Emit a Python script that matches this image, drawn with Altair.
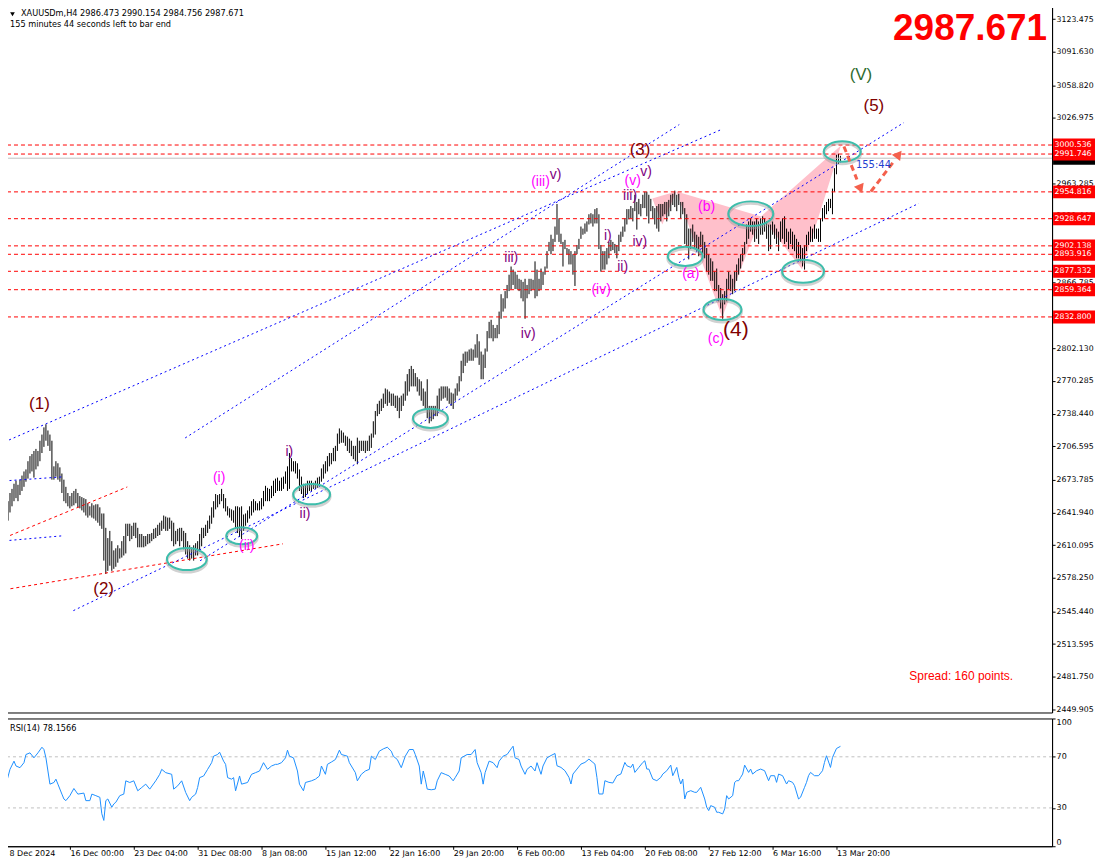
import json
import altair as alt
import pandas as pd

# ---------------- data ----------------
highs = [2650,2653,2661,2665,2670,2673,2669,2674,2678,2682,2684,2692,2697,2699,2702,2704,2702,2712,2718,2725,
         2728,2722,2718,2712,2687,2692,2690,2686,2680,2674,2667,2661,2658,2661,2663,2665,2661,2658,2657,2656,
         2655,2651,2648,2651,2649,2650,2650,2647,2641,2641,2627,2617,2624,2614,2605,2607,2610,2607,2614,2619,
         2631,2631,2631,2629,2632,2632,2627,2621,2621,2619,2619,2621,2621,2622,2626,2627,2630,2632,2634,2639,
         2638,2637,2637,2634,2632,2624,2626,2627,2627,2624,2622,2614,2610,2608,2610,2612,2614,2621,2627,2627,
         2630,2634,2639,2647,2653,2660,2659,2660,2665,2660,2656,2648,2646,2645,2644,2648,2648,2647,2648,2640,
         2641,2644,2648,2653,2655,2653,2651,2653,2656,2663,2668,2666,2665,2668,2673,2675,2676,2673,2676,2677,
         2682,2687,2700,2695,2692,2692,2690,2684,2677,2670,2670,2673,2673,2673,2671,2673,2676,2677,2685,2689,
         2692,2697,2700,2700,2705,2707,2719,2724,2722,2720,2717,2716,2714,2712,2707,2707,2715,2712,2712,2712,
         2712,2712,2717,2719,2731,2741,2748,2751,2753,2758,2763,2762,2760,2758,2758,2756,2756,2754,2756,2758,
         2770,2777,2782,2785,2782,2778,2774,2772,2770,2763,2760,2772,2746,2746,2746,2746,2756,2763,2765,2765,
         2765,2765,2763,2759,2758,2763,2768,2775,2790,2797,2799,2799,2801,2802,2801,2806,2816,2809,2799,2796,
         2802,2819,2828,2830,2825,2822,2825,2838,2855,2851,2858,2864,2874,2882,2879,2877,2874,2870,2869,2867,
         2870,2864,2870,2870,2869,2887,2879,2870,2880,2877,2882,2897,2906,2913,2909,2921,2943,2929,2914,2906,
         2908,2900,2899,2897,2894,2897,2903,2909,2921,2919,2924,2926,2933,2934,2933,2938,2939,2933,2903,2897,
         2897,2900,2906,2908,2906,2904,2903,2913,2916,2921,2929,2938,2938,2941,2939,2952,2945,2948,2943,2952,
         2955,2955,2952,2948,2941,2939,2941,2943,2943,2943,2945,2945,2947,2952,2953,2956,2952,2953,2945,2945,
         2939,2933,2919,2919,2923,2916,2913,2911,2916,2913,2906,2900,2894,2890,2887,2877,2880,2864,2861,2855,
         2858,2870,2877,2874,2870,2877,2884,2890,2894,2900,2906,2923,2926,2929,2926,2926,2929,2926,2929,2931,
         2929,2926,2923,2923,2926,2923,2919,2916,2926,2929,2931,2919,2916,2919,2916,2913,2909,2906,2903,2900,
         2903,2913,2916,2921,2919,2923,2919,2919,2929,2939,2942,2945,2948,2948,2958,2978,2991,2992,2990]
lows = [2627,2634,2642,2648,2653,2656,2653,2659,2663,2667,2672,2675,2680,2682,2676,2684,2687,2692,2700,2706,
        2712,2707,2702,2674,2674,2677,2674,2672,2661,2653,2651,2648,2646,2648,2649,2651,2647,2646,2644,2642,
        2639,2637,2639,2637,2636,2634,2632,2629,2626,2595,2582,2585,2590,2585,2587,2589,2593,2597,2598,2600,
        2602,2619,2614,2616,2619,2617,2608,2608,2608,2608,2609,2611,2612,2614,2616,2617,2619,2620,2624,2626,
        2624,2624,2626,2614,2609,2611,2614,2609,2614,2606,2601,2597,2595,2597,2595,2600,2600,2604,2609,2617,
        2619,2622,2626,2631,2637,2645,2647,2650,2653,2646,2643,2639,2637,2634,2632,2626,2622,2618,2616,2624,
        2629,2632,2636,2639,2642,2644,2644,2644,2645,2648,2653,2653,2653,2656,2658,2661,2663,2663,2663,2665,
        2670,2663,2665,2682,2682,2680,2675,2663,2660,2656,2657,2660,2663,2663,2665,2665,2666,2668,2672,2675,
        2680,2682,2687,2689,2692,2692,2702,2709,2710,2710,2707,2702,2700,2697,2694,2692,2689,2700,2702,2702,
        2700,2702,2702,2705,2715,2718,2736,2738,2741,2744,2748,2746,2749,2746,2746,2744,2741,2734,2741,2746,
        2751,2756,2760,2765,2765,2765,2760,2756,2751,2746,2743,2734,2729,2731,2733,2736,2736,2741,2751,2753,
        2754,2751,2748,2746,2743,2751,2756,2760,2770,2778,2785,2788,2790,2790,2790,2793,2793,2786,2772,2772,
        2783,2799,2812,2812,2809,2812,2812,2816,2831,2838,2841,2851,2858,2860,2864,2860,2860,2858,2851,2848,
        2831,2851,2855,2858,2860,2851,2853,2858,2860,2864,2874,2880,2897,2894,2897,2906,2913,2906,2904,2882,
        2899,2894,2884,2884,2874,2863,2894,2899,2909,2913,2914,2916,2923,2924,2921,2924,2924,2899,2877,2879,
        2879,2884,2890,2897,2898,2895,2890,2897,2906,2911,2916,2923,2928,2929,2926,2936,2918,2933,2931,2939,
        2939,2931,2924,2936,2929,2923,2919,2916,2926,2931,2933,2926,2931,2936,2942,2940,2936,2942,2929,2933,
        2904,2902,2889,2899,2906,2899,2897,2892,2901,2894,2890,2877,2874,2868,2868,2858,2858,2848,2841,2831,
        2845,2848,2860,2858,2855,2858,2868,2874,2880,2887,2894,2904,2909,2916,2913,2906,2909,2904,2913,2913,
        2916,2909,2897,2899,2913,2909,2904,2897,2906,2909,2904,2906,2899,2904,2899,2897,2890,2890,2887,2882,
        2879,2897,2903,2906,2906,2909,2909,2906,2906,2926,2929,2933,2936,2939,2933,2955,2972,2982,2985]

rsi_idx = [0,2,4,5,7,9,10,12,14,16,18,19,20,22,24,25,26,28,29,30,32,34,36,39,40,42,43,45,47,48,49,50,51,53,54,55,
           57,59,60,62,64,66,68,70,72,75,77,78,80,83,84,86,88,90,92,93,95,96,97,99,101,103,104,106,107,109,110,
           111,113,114,115,117,118,121,123,125,127,129,131,133,135,136,138,140,141,142,144,146,147,149,150,153,
           155,157,158,160,161,163,165,167,168,171,172,173,175,176,178,180,182,183,185,187,189,191,193,194,196,
           198,200,202,204,205,207,208,209,210,211,213,215,216,218,220,222,224,225,227,228,231,233,235,236,238,
           239,240,242,244,246,247,249,251,253,254,255,257,258,260,261,263,265,266,268,269,271,273,275,276,278,
           280,282,283,284,286,288,290,292,294,295,296,297,299,300,302,304,306,308,310,311,313,314,315,317,319,
           320,321,322,324,326,328,329,331,333,334,336,337,338,339,340,341,343,345,346,348,350,351,352,353,355,
           356,357,359,360,361,362,364,365,366,367,368,369,370,372,373,374,376,378,380,382,383,385,386,387,389,
           391,392,394,395,397,398,400,401,402,403,405,407,409,410,411,413,414,416,418]
rsi_val = [48.6,60.2,66.6,62.8,61.5,65.4,71.8,73.1,69.2,73.1,77.5,75.7,69.2,48.6,49.9,52.5,48.6,40.8,37.0,35.7,
           39.6,45.2,40.8,41.6,35.7,35.7,40.8,39.6,38.3,25.4,20.2,35.7,37.0,30.5,33.1,34.4,39.6,40.8,51.2,49.9,
           51.2,43.4,46.0,48.6,44.7,51.2,56.3,60.2,57.6,56.3,44.7,47.3,51.2,42.1,35.7,38.3,40.8,46.0,53.7,55.0,
           60.2,65.4,70.5,71.8,73.6,66.6,64.1,53.7,52.5,53.7,43.4,55.0,48.6,49.9,56.3,57.6,58.9,65.4,60.2,62.8,
           64.1,64.1,65.4,69.2,75.2,70.5,69.2,58.9,48.6,43.4,49.9,51.2,52.5,55.0,62.8,56.3,64.1,65.9,67.9,75.2,
           71.8,70.5,65.4,62.8,57.6,51.2,56.3,58.9,60.2,70.5,67.9,74.4,76.2,77.5,74.4,70.5,67.9,61.5,70.5,75.7,
           75.7,71.8,62.8,48.6,58.9,52.5,44.7,44.2,44.7,51.2,57.6,56.3,55.0,51.2,53.7,58.9,69.2,71.8,71.8,75.7,
           65.4,57.6,48.6,57.6,66.6,65.4,61.5,66.6,70.5,71.8,76.2,78.3,69.2,67.9,62.8,56.3,60.2,62.8,58.9,65.4,
           56.3,62.8,69.2,71.0,72.6,63.0,61.7,59.1,53.9,48.7,56.5,60.4,64.3,65.6,68.2,65.6,64.3,53.9,40.9,40.9,
           51.3,50.0,49.5,55.2,56.5,65.6,63.0,61.7,64.3,57.8,61.7,65.6,66.9,60.4,60.4,52.6,51.3,53.9,56.5,59.1,
           63.5,55.2,61.7,53.9,48.7,52.6,37.0,42.2,43.5,42.2,42.2,46.1,37.0,30.5,27.9,31.8,30.5,26.6,26.6,25.3,
           29.2,39.6,37.0,39.6,50.0,51.3,51.3,53.9,56.5,63.5,57.8,60.4,56.5,59.1,60.4,59.1,51.3,55.2,55.2,50.0,
           56.5,55.2,48.7,51.3,50.0,47.4,37.0,38.3,46.1,50.0,55.2,57.8,55.2,55.2,59.1,65.6,70.8,61.7,69.5,76.5,
           78.2]

levels = [3000.536, 2991.746, 2954.816, 2928.647, 2902.138, 2893.916, 2877.332, 2859.364, 2832.800]
bid = 2987.671
price_ticks = [3123.475, 3091.630, 3058.820, 3026.975, 2995.130, 2963.285, 2931.440, 2898.630, 2866.785,
               2834.940, 2802.130, 2770.285, 2738.440, 2706.595, 2673.785, 2641.940, 2610.095, 2578.250,
               2545.440, 2513.595, 2481.750, 2449.905]
time_ticks = [0, 32, 64, 96, 128, 160, 192, 224, 256, 288, 320, 352, 384, 416]
time_labels = ["8 Dec 2024", "16 Dec 00:00", "23 Dec 04:00", "31 Dec 08:00", "8 Jan 08:00", "15 Jan 12:00",
               "22 Jan 16:00", "29 Jan 20:00", "6 Feb 00:00", "13 Feb 04:00", "20 Feb 08:00",
               "27 Feb 12:00", "6 Mar 16:00", "13 Mar 20:00"]

# trend / channel lines: bar index and price of both ends
chan_id = ["L1", "L1", "L2", "L2", "L3", "L3", "L4", "L4", "B1", "B1", "B2", "B2"]
chan_i = [-0.75, 358.25, 89.75, 337.25, 33.75, 457.25, 97.25, 449.75, -0.75, 28.25, -0.75, 28.25]
chan_p = [2710.8, 3015.6, 2714.7, 3020.5, 2546.2, 2943.6, 2594.9, 3022.4, 2672.8, 2676.7, 2614.3, 2619.2]
red_id = ["R1", "R1", "R2", "R2"]
red_i = [-0.75, 138.75, -0.75, 60.75]
red_p = [2566.6, 2611.4, 2617.3, 2666.9]

# harmonic pattern triangles
tri_id = ["s", "s", "s", "XAB", "XAB", "XAB", "BCD", "BCD", "BCD"]
tri_i = [323.75, 328.75, 335.75, 335.75, 358.75, 378.25, 378.25, 398.75, 418.25]
tri_top = [2948.4, 2951.2, 2955.2, 2955.2, 2942.1, 2930.9, 2930.9, 2966.3, 3000.0]
tri_bot = [2948.4, 2923.1, 2955.2, 2955.2, 2832.5, 2930.9, 2930.9, 2879.3, 3000.0]

# ellipses
ell_i = [90.6, 118.1, 153.1, 212.6, 340.25, 358.9, 373.1, 399.25, 418.9]
ell_p = [2596.5, 2619.2, 2659.8, 2733.9, 2891.9, 2840.0, 2933.5, 2877.3, 2994.2]
ell_w = [40, 31, 37, 35, 35, 38, 45, 42, 37]

# arrows
arr_id = ["A1", "A1", "A2", "A2"]
arr_i = [419.75, 426.25, 433.25, 444.75]
arr_p = [2999.1, 2966.9, 2955.2, 2984.5]
head_i = [427.75, 446.75]
head_p = [2959.1, 2990.3]
head_a = [158, 38]

# wave labels
maroon_t = ["(1)", "(2)", "(3)", "(5)"]
maroon_i = [16.75, 48.9, 317.6, 434.75]
maroon_p = [2747.5, 2567.3, 2995.9, 3039.0]
mag_t = ["(i)", "(ii)", "(iii)", "(iv)", "(v)", "(a)", "(b)", "(c)"]
mag_i = [106.75, 120.6, 267.75, 298.1, 313.9, 343.0, 350.9, 355.6]
mag_p = [2676.0, 2609.5, 2964.5, 2858.8, 2965.0, 2874.7, 2939.7, 2810.8]
pur_t = ["i)", "ii)", "iii)", "iv)", "v)", "i)", "ii)", "iii)", "iv)", "v)"]
pur_i = [141.9, 149.75, 253.1, 261.6, 275.25, 301.5, 308.9, 312.6, 317.5, 320.6]
pur_p = [2701.3, 2640.3, 2890.3, 2816.4, 2970.8, 2911.4, 2881.2, 2950.9, 2905.6, 2974.2]

# ---------------- chart ----------------
FONT = "DejaVu Sans"
LFONT = "Liberation Sans"
ELL = "M-1,0A1,0.55,0,1,1,1,0A1,0.55,0,1,1,-1,0Z"

xs = alt.Scale(domain=[-1.0, 524.0], nice=False, zero=False)
ys = alt.Scale(domain=[2446.81, 3137.38], nice=False, zero=False)
rs = alt.Scale(domain=[0, 100], nice=False, zero=False)

main_axis = alt.Axis(orient="right", values=price_ticks, format=".3f", title=None, grid=False,
                     labelFont=FONT, labelFontSize=7.8, labelColor="black", tickColor="black",
                     tickSize=3, labelPadding=1, domainColor="black", labelOverlap=False,
                     labelFlush=False, labelBound=False)


def X(f):
    return alt.X(f, type="quantitative", scale=xs, axis=None)


def Y(f):
    return alt.Y(f, type="quantitative", scale=ys, axis=main_axis)


one = pd.DataFrame({"k": [0]})
bars_df = pd.DataFrame({"i": list(range(len(highs))), "high": highs, "low": lows})
tri_df = pd.DataFrame({"id": tri_id, "i": tri_i, "top": tri_top, "bot": tri_bot})
chan_df = pd.DataFrame({"id": chan_id, "i": chan_i, "p": chan_p})
red_df = pd.DataFrame({"id": red_id, "i": red_i, "p": red_p})
ell_df = pd.DataFrame({"i": ell_i, "p": ell_p, "s": [w * w for w in ell_w]})
arr_df = pd.DataFrame({"id": arr_id, "i": arr_i, "p": arr_p})
head_df = pd.DataFrame({"i": head_i, "p": head_p, "a": head_a})
lvl_df = pd.DataFrame({"p": levels, "lbl": [f"{v:.3f}" for v in levels]})
bid_df = pd.DataFrame({"p": [bid], "lbl": [f"{bid:.3f}"]})
mar_df = pd.DataFrame({"t": maroon_t, "i": maroon_i, "p": maroon_p})
mag_df = pd.DataFrame({"t": mag_t, "i": mag_i, "p": mag_p})
pur_df = pd.DataFrame({"t": pur_t, "i": pur_i, "p": pur_p})

# invisible frame fixing the drawing bounds so the page is rendered at scale 1
frame_main = alt.Chart(one).mark_rect(fill="white", fillOpacity=0, strokeOpacity=0).encode(
    x=alt.value(-10), x2=alt.value(1110), y=alt.value(-10), y2=alt.value(-9))
frame_rsi = alt.Chart(one).mark_rect(fill="white", fillOpacity=0, strokeOpacity=0).encode(
    x=alt.value(0), x2=alt.value(1), y=alt.value(143), y2=alt.value(144))

pink = alt.Chart(tri_df).mark_area(color="#FFC0CB", opacity=1).encode(
    x=X("i"), y=Y("top"), y2="bot", detail="id:N")
bars = alt.Chart(bars_df).mark_rule(color="black", strokeWidth=1).encode(
    x=X("i"), y=Y("low"), y2="high")
lvl_lines = alt.Chart(lvl_df).mark_rule(color="#FF0000", strokeDash=[4, 3], strokeWidth=1).encode(y=Y("p"))
bid_line = alt.Chart(bid_df).mark_rule(color="#C0C0C0", strokeWidth=1).encode(y=Y("p"))
chan = alt.Chart(chan_df).mark_line(color="#0000FF", strokeDash=[2, 3], strokeWidth=1).encode(
    x=X("i"), y=Y("p"), detail="id:N")
redl = alt.Chart(red_df).mark_line(color="#FF0000", strokeDash=[3, 3], strokeWidth=1).encode(
    x=X("i"), y=Y("p"), detail="id:N")
ell_shadow = alt.Chart(ell_df).mark_point(shape=ELL, filled=False, color="#9A9A9A", strokeWidth=3,
                                          opacity=0.45, yOffset=2).encode(
    x=X("i"), y=Y("p"), size=alt.Size("s:Q", scale=None))
ell = alt.Chart(ell_df).mark_point(shape=ELL, filled=False, color="#3DBDAB", strokeWidth=2, opacity=1).encode(
    x=X("i"), y=Y("p"), size=alt.Size("s:Q", scale=None))
arrows = alt.Chart(arr_df).mark_line(color="#F4604C", strokeWidth=3, strokeDash=[6, 4]).encode(
    x=X("i"), y=Y("p"), detail="id:N")
heads = alt.Chart(head_df).mark_point(shape="triangle", filled=True, color="#F4604C", size=110,
                                      opacity=1).encode(
    x=X("i"), y=Y("p"), angle=alt.Angle("a:Q", scale=None))

t_mar = alt.Chart(mar_df).mark_text(font=LFONT, fontSize=17, color="#800000").encode(
    x=X("i"), y=Y("p"), text="t:N")
t_four = alt.Chart(pd.DataFrame({"t": ["(4)"], "i": [365.6], "p": [2819.6]})).mark_text(
    font=LFONT, fontSize=21, color="#800000").encode(x=X("i"), y=Y("p"), text="t:N")
t_V = alt.Chart(pd.DataFrame({"t": ["(V)"], "i": [428.25], "p": [3069.2]})).mark_text(
    font=LFONT, fontSize=17, color="#2F6B2F").encode(x=X("i"), y=Y("p"), text="t:N")
t_mag = alt.Chart(mag_df).mark_text(font=LFONT, fontSize=14, color="#FF00FF").encode(
    x=X("i"), y=Y("p"), text="t:N")
t_pur = alt.Chart(pur_df).mark_text(font=LFONT, fontSize=14, color="#800080").encode(
    x=X("i"), y=Y("p"), text="t:N")
t_timer = alt.Chart(pd.DataFrame({"t": ["155:44"], "i": [425.75], "p": [2980.6]})).mark_text(
    font=FONT, fontSize=10, color="#1F3FD0", align="left").encode(x=X("i"), y=Y("p"), text="t:N")

hdr_tri = alt.Chart(one).mark_point(shape="triangle-down", filled=True, color="black", size=22,
                                    opacity=1).encode(x=alt.value(8.5), y=alt.value(9.5))
hdr1 = alt.Chart(one).mark_text(font=FONT, fontSize=8.2, color="black", align="left",
                                baseline="middle").encode(
    x=alt.value(17), y=alt.value(9.5),
    text=alt.value("XAUUSDm,H4  2986.473 2990.154 2984.756 2987.671"))
hdr2 = alt.Chart(one).mark_text(font=FONT, fontSize=8.2, color="black", align="left",
                                baseline="middle").encode(
    x=alt.value(6), y=alt.value(20.5), text=alt.value("155 minutes 44 seconds left to bar end"))
big = alt.Chart(one).mark_text(font=LFONT, fontSize=37, fontWeight="bold", color="#FF0000",
                               align="right", baseline="alphabetic").encode(
    x=alt.value(1045), y=alt.value(35), text=alt.value("2987.671"))
spread = alt.Chart(one).mark_text(font=LFONT, fontSize=12, color="#FF0000", align="left",
                                  baseline="middle").encode(
    x=alt.value(907), y=alt.value(672), text=alt.value("Spread: 160 points."))

bid_box = alt.Chart(bid_df).mark_rect(color="black", yOffset=-6.5, y2Offset=6.5).encode(
    x=alt.value(1051), x2=alt.value(1097), y=Y("p"), y2="p")
bid_txt = alt.Chart(bid_df).mark_text(font=FONT, fontSize=7.8, color="white", align="center",
                                      baseline="middle").encode(x=alt.value(1071), y=Y("p"), text="lbl:N")
lvl_boxes = []
for k in range(len(levels)):
    d = lvl_df.iloc[[k]]
    lvl_boxes.append(alt.Chart(d).mark_rect(color="#FF0000", yOffset=-6.5, y2Offset=6.5).encode(
        x=alt.value(1051), x2=alt.value(1097), y=Y("p"), y2="p"))
    lvl_boxes.append(alt.Chart(d).mark_text(font=FONT, fontSize=7.8, color="white", align="center",
                                            baseline="middle").encode(
        x=alt.value(1071), y=Y("p"), text="lbl:N"))

main = alt.layer(
    frame_main, pink, bars, lvl_lines, bid_line, chan, redl, ell_shadow, ell, arrows, heads,
    t_mar, t_four, t_V, t_mag, t_pur, t_timer, hdr_tri, hdr1, hdr2, big, spread,
    bid_box, bid_txt, *lvl_boxes
).properties(width=1050, height=709)

# ---------------- RSI panel ----------------
rsi_df = pd.DataFrame({"i": rsi_idx, "v": rsi_val})
label_expr = json.dumps(time_labels) + "[round(datum.value / 32)]"
rsi_x_axis = alt.Axis(values=time_ticks, labelExpr=label_expr, labelAlign="left", labelFlush=False,
                      labelOverlap=False, labelBound=False, title=None, grid=False, tickSize=3,
                      labelPadding=0, labelFont=FONT, labelFontSize=8, labelColor="black",
                      tickColor="black", domainColor="black",
                      labelOffset={"condition": {"test": "datum.value == 0", "value": 3}, "value": 0})
rsi_y_axis = alt.Axis(orient="right", values=[0, 30, 70, 100], title=None, grid=False, labelFlush=True,
                      labelFont=FONT, labelFontSize=8, labelColor="black", tickSize=3, labelPadding=1,
                      tickColor="black", domainColor="black")

rsi_lv = alt.Chart(pd.DataFrame({"v": [70, 30]})).mark_rule(color="#C0C0C0", strokeDash=[3, 3]).encode(
    y=alt.Y("v:Q", scale=rs, axis=rsi_y_axis))
rsi_line = alt.Chart(rsi_df).mark_line(color="#1E90FF", strokeWidth=1).encode(
    x=alt.X("i:Q", scale=xs, axis=rsi_x_axis), y=alt.Y("v:Q", scale=rs, axis=rsi_y_axis))
rsi_title = alt.Chart(one).mark_text(font=FONT, fontSize=8.2, color="black", align="left",
                                     baseline="middle").encode(
    x=alt.value(6), y=alt.value(11), text=alt.value("RSI(14) 78.1566"))

rsi = alt.layer(frame_rsi, rsi_lv, rsi_line, rsi_title).properties(width=1050, height=128)

chart = alt.vconcat(main, rsi, spacing=3).properties(
    padding={"left": -15, "top": -15, "right": -18, "bottom": -2},
    autosize=alt.AutoSizeParams(type="pad"),
    background="white",
).configure_view(stroke="black", strokeWidth=1)

chart.save("out.html", embed_options={"renderer": "svg", "actions": False})
